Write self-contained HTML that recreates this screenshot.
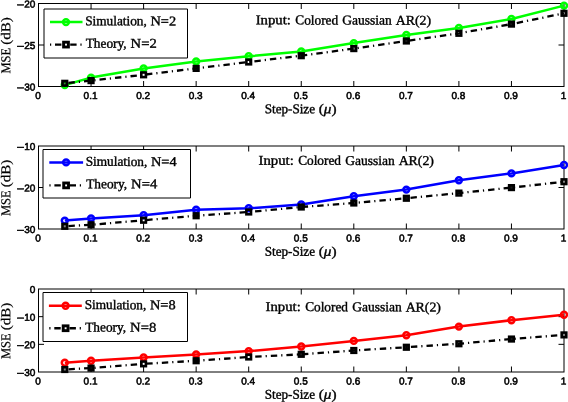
<!DOCTYPE html>
<html><head><meta charset="utf-8"><title>MSE vs Step-Size</title>
<style>
html,body{margin:0;padding:0;background:#fff;}
body{width:568px;height:402px;overflow:hidden;}
svg{display:block;text-rendering:geometricPrecision;}
.tk{font-family:"Liberation Sans",sans-serif;font-size:10px;fill:#000;stroke:#000;stroke-width:0.55px;}
.sf{font-family:"Liberation Serif",serif;font-size:13.5px;fill:#000;stroke:#000;stroke-width:0.38px;}
</style></head><body>
<svg width="568" height="402" viewBox="0 0 568 402">
<rect x="0" y="0" width="568" height="402" fill="#fff"/>

<rect x="38.5" y="3.5" width="525.5" height="83.0" fill="none" stroke="#000" stroke-width="1"/>
<text class="tk" transform="rotate(0.15 20 8.3)" x="16.7" y="8.30" textLength="7.5" lengthAdjust="spacingAndGlyphs">−</text>
<text class="tk" transform="rotate(0.15 28 7.5)" x="35.4" y="7.50" text-anchor="end">20</text>
<text class="tk" transform="rotate(0.15 20 49.8)" x="16.7" y="49.80" textLength="7.5" lengthAdjust="spacingAndGlyphs">−</text>
<text class="tk" transform="rotate(0.15 28 49.0)" x="35.4" y="49.00" text-anchor="end">25</text>
<text class="tk" transform="rotate(0.15 20 91.3)" x="16.7" y="91.30" textLength="7.5" lengthAdjust="spacingAndGlyphs">−</text>
<text class="tk" transform="rotate(0.15 28 90.5)" x="35.4" y="90.50" text-anchor="end">30</text>
<path d="M91.05 86.5v-5.5M91.05 3.5v5.5M143.60 86.5v-5.5M143.60 3.5v5.5M196.15 86.5v-5.5M196.15 3.5v5.5M248.70 86.5v-5.5M248.70 3.5v5.5M301.25 86.5v-5.5M301.25 3.5v5.5M353.80 86.5v-5.5M353.80 3.5v5.5M406.35 86.5v-5.5M406.35 3.5v5.5M458.90 86.5v-5.5M458.90 3.5v5.5M511.45 86.5v-5.5M511.45 3.5v5.5M38.5 45.00h5.5M564.0 45.00h-5.5" stroke="#000" stroke-width="1" fill="none"/>
<text class="tk" transform="rotate(0.15 38.5 99.0)" x="38.00" y="99.00" text-anchor="middle">0</text>
<text class="tk" transform="rotate(0.15 91.1 99.0)" x="90.55" y="99.00" text-anchor="middle">0.1</text>
<text class="tk" transform="rotate(0.15 143.6 99.0)" x="143.10" y="99.00" text-anchor="middle">0.2</text>
<text class="tk" transform="rotate(0.15 196.2 99.0)" x="195.65" y="99.00" text-anchor="middle">0.3</text>
<text class="tk" transform="rotate(0.15 248.7 99.0)" x="248.20" y="99.00" text-anchor="middle">0.4</text>
<text class="tk" transform="rotate(0.15 301.2 99.0)" x="300.75" y="99.00" text-anchor="middle">0.5</text>
<text class="tk" transform="rotate(0.15 353.8 99.0)" x="353.30" y="99.00" text-anchor="middle">0.6</text>
<text class="tk" transform="rotate(0.15 406.3 99.0)" x="405.85" y="99.00" text-anchor="middle">0.7</text>
<text class="tk" transform="rotate(0.15 458.9 99.0)" x="458.40" y="99.00" text-anchor="middle">0.8</text>
<text class="tk" transform="rotate(0.15 511.4 99.0)" x="510.95" y="99.00" text-anchor="middle">0.9</text>
<text class="tk" transform="rotate(0.15 564.0 99.0)" x="563.50" y="99.00" text-anchor="middle">1</text>
<text class="sf" transform="rotate(0.15 300.5 113.3)" y="113.30"><tspan x="264.70" textLength="50.30" lengthAdjust="spacingAndGlyphs">Step-Size</tspan> <tspan x="318.70" textLength="17.80" lengthAdjust="spacingAndGlyphs">(<tspan font-style="italic">μ</tspan>)</tspan></text>
<g transform="translate(10.3 72.90) rotate(-90)"><text class="sf" transform="rotate(0.15 27.5 0.0)" y="0.00" style="stroke-width:0.2px"><tspan x="-0.70" textLength="25.70" lengthAdjust="spacingAndGlyphs">MSE</tspan> <tspan x="28.10" textLength="27.70" lengthAdjust="spacingAndGlyphs">(dB)</tspan></text></g>
<polyline points="64.78,85.0 91.05,77.6 143.60,68.4 196.15,61.5 248.70,56.3 301.25,51.5 353.80,43.1 406.35,35.0 458.90,27.9 511.45,19.0 564.00,5.6" fill="none" stroke="#00ff00" stroke-width="2.5" stroke-linejoin="round"/>
<circle cx="64.78" cy="85.0" r="2.95" fill="none" stroke="#00ff00" stroke-width="2.5"/>
<circle cx="91.05" cy="77.6" r="2.95" fill="none" stroke="#00ff00" stroke-width="2.5"/>
<circle cx="143.60" cy="68.4" r="2.95" fill="none" stroke="#00ff00" stroke-width="2.5"/>
<circle cx="196.15" cy="61.5" r="2.95" fill="none" stroke="#00ff00" stroke-width="2.5"/>
<circle cx="248.70" cy="56.3" r="2.95" fill="none" stroke="#00ff00" stroke-width="2.5"/>
<circle cx="301.25" cy="51.5" r="2.95" fill="none" stroke="#00ff00" stroke-width="2.5"/>
<circle cx="353.80" cy="43.1" r="2.95" fill="none" stroke="#00ff00" stroke-width="2.5"/>
<circle cx="406.35" cy="35.0" r="2.95" fill="none" stroke="#00ff00" stroke-width="2.5"/>
<circle cx="458.90" cy="27.9" r="2.95" fill="none" stroke="#00ff00" stroke-width="2.5"/>
<circle cx="511.45" cy="19.0" r="2.95" fill="none" stroke="#00ff00" stroke-width="2.5"/>
<circle cx="564.00" cy="5.6" r="2.95" fill="none" stroke="#00ff00" stroke-width="2.5"/>
<polyline points="64.78,83.3 91.05,80.6 143.60,74.8 196.15,68.4 248.70,62.0 301.25,55.7 353.80,48.6 406.35,41.0 458.90,33.3 511.45,24.1 564.00,13.3" fill="none" stroke="#000" stroke-width="2.3" stroke-dasharray="6.4 4 1.2 4" stroke-dashoffset="11.9"/>
<rect x="62.48" y="81.00" width="4.6" height="4.6" fill="#000" fill-opacity="0.5" stroke="#000" stroke-width="2.6"/>
<rect x="88.75" y="78.30" width="4.6" height="4.6" fill="#000" fill-opacity="0.9" stroke="#000" stroke-width="2.6"/>
<rect x="141.30" y="72.50" width="4.6" height="4.6" fill="#000" fill-opacity="0.0" stroke="#000" stroke-width="2.6"/>
<rect x="193.85" y="66.10" width="4.6" height="4.6" fill="#000" fill-opacity="0.9" stroke="#000" stroke-width="2.6"/>
<rect x="246.40" y="59.70" width="4.6" height="4.6" fill="#000" fill-opacity="0.0" stroke="#000" stroke-width="2.6"/>
<rect x="298.95" y="53.40" width="4.6" height="4.6" fill="#000" fill-opacity="0.9" stroke="#000" stroke-width="2.6"/>
<rect x="351.50" y="46.30" width="4.6" height="4.6" fill="#000" fill-opacity="0.5" stroke="#000" stroke-width="2.6"/>
<rect x="404.05" y="38.70" width="4.6" height="4.6" fill="#000" fill-opacity="0.9" stroke="#000" stroke-width="2.6"/>
<rect x="456.60" y="31.00" width="4.6" height="4.6" fill="#000" fill-opacity="0.0" stroke="#000" stroke-width="2.6"/>
<rect x="509.15" y="21.80" width="4.6" height="4.6" fill="#000" fill-opacity="0.9" stroke="#000" stroke-width="2.6"/>
<rect x="561.70" y="11.00" width="4.6" height="4.6" fill="#000" fill-opacity="0.0" stroke="#000" stroke-width="2.6"/>
<rect x="44.0" y="9.0" width="143.5" height="49.0" fill="#fff" stroke="none"/>
<path d="M44.0 9.0H187.5" stroke="#000" stroke-width="1" fill="none"/>
<path d="M187.5 9.0V58.0" stroke="#000" stroke-width="1" fill="none"/>
<path d="M187.5 58.0H44.0" stroke="#000" stroke-width="1" fill="none"/>
<path d="M44.0 58.0V9.0" stroke="#000" stroke-width="1" fill="none"/>
<path d="M50 22.1H82.5" stroke="#00ff00" stroke-width="2.5" fill="none"/>
<circle cx="66.0" cy="22.1" r="2.95" fill="none" stroke="#00ff00" stroke-width="2.5"/>
<path d="M50 44.6H82.5" stroke="#000" stroke-width="2.3" stroke-dasharray="1.2 3.8 6.4 3.8" fill="none"/>
<rect x="63.60" y="42.20" width="4.8" height="4.8" fill="#fff" stroke="#000" stroke-width="2.9"/>
<text class="sf" transform="rotate(0.15 130.6 25.3)" y="25.30"><tspan x="85.20" textLength="61.60" lengthAdjust="spacingAndGlyphs">Simulation,</tspan> <tspan x="150.50" textLength="25.60" lengthAdjust="spacingAndGlyphs">N=2</tspan></text>
<text class="sf" transform="rotate(0.15 121.2 47.7)" y="47.70"><tspan x="85.70" textLength="40.90" lengthAdjust="spacingAndGlyphs">Theory,</tspan> <tspan x="130.60" textLength="26.10" lengthAdjust="spacingAndGlyphs">N=2</tspan></text>
<text class="sf" transform="rotate(0.15 343.3 24.5)" y="24.50"><tspan x="255.70" textLength="35.20" lengthAdjust="spacingAndGlyphs">Input:</tspan> <tspan x="295.30" textLength="42.80" lengthAdjust="spacingAndGlyphs">Colored</tspan> <tspan x="342.30" textLength="49.50" lengthAdjust="spacingAndGlyphs">Gaussian</tspan> <tspan x="395.80" textLength="35.30" lengthAdjust="spacingAndGlyphs">AR(2)</tspan></text>
<rect x="38.5" y="146.0" width="525.5" height="83.0" fill="none" stroke="#000" stroke-width="1"/>
<text class="tk" transform="rotate(0.15 20 150.8)" x="16.7" y="150.80" textLength="7.5" lengthAdjust="spacingAndGlyphs">−</text>
<text class="tk" transform="rotate(0.15 28 150.0)" x="35.4" y="150.00" text-anchor="end">10</text>
<text class="tk" transform="rotate(0.15 20 192.3)" x="16.7" y="192.30" textLength="7.5" lengthAdjust="spacingAndGlyphs">−</text>
<text class="tk" transform="rotate(0.15 28 191.5)" x="35.4" y="191.50" text-anchor="end">20</text>
<text class="tk" transform="rotate(0.15 20 233.8)" x="16.7" y="233.80" textLength="7.5" lengthAdjust="spacingAndGlyphs">−</text>
<text class="tk" transform="rotate(0.15 28 233.0)" x="35.4" y="233.00" text-anchor="end">30</text>
<path d="M91.05 229.0v-5.5M91.05 146.0v5.5M143.60 229.0v-5.5M143.60 146.0v5.5M196.15 229.0v-5.5M196.15 146.0v5.5M248.70 229.0v-5.5M248.70 146.0v5.5M301.25 229.0v-5.5M301.25 146.0v5.5M353.80 229.0v-5.5M353.80 146.0v5.5M406.35 229.0v-5.5M406.35 146.0v5.5M458.90 229.0v-5.5M458.90 146.0v5.5M511.45 229.0v-5.5M511.45 146.0v5.5M38.5 187.50h5.5M564.0 187.50h-5.5" stroke="#000" stroke-width="1" fill="none"/>
<text class="tk" transform="rotate(0.15 38.5 241.5)" x="38.00" y="241.50" text-anchor="middle">0</text>
<text class="tk" transform="rotate(0.15 91.1 241.5)" x="90.55" y="241.50" text-anchor="middle">0.1</text>
<text class="tk" transform="rotate(0.15 143.6 241.5)" x="143.10" y="241.50" text-anchor="middle">0.2</text>
<text class="tk" transform="rotate(0.15 196.2 241.5)" x="195.65" y="241.50" text-anchor="middle">0.3</text>
<text class="tk" transform="rotate(0.15 248.7 241.5)" x="248.20" y="241.50" text-anchor="middle">0.4</text>
<text class="tk" transform="rotate(0.15 301.2 241.5)" x="300.75" y="241.50" text-anchor="middle">0.5</text>
<text class="tk" transform="rotate(0.15 353.8 241.5)" x="353.30" y="241.50" text-anchor="middle">0.6</text>
<text class="tk" transform="rotate(0.15 406.3 241.5)" x="405.85" y="241.50" text-anchor="middle">0.7</text>
<text class="tk" transform="rotate(0.15 458.9 241.5)" x="458.40" y="241.50" text-anchor="middle">0.8</text>
<text class="tk" transform="rotate(0.15 511.4 241.5)" x="510.95" y="241.50" text-anchor="middle">0.9</text>
<text class="tk" transform="rotate(0.15 564.0 241.5)" x="563.50" y="241.50" text-anchor="middle">1</text>
<text class="sf" transform="rotate(0.15 300.5 255.8)" y="255.80"><tspan x="264.70" textLength="50.30" lengthAdjust="spacingAndGlyphs">Step-Size</tspan> <tspan x="318.70" textLength="17.80" lengthAdjust="spacingAndGlyphs">(<tspan font-style="italic">μ</tspan>)</tspan></text>
<g transform="translate(10.3 215.40) rotate(-90)"><text class="sf" transform="rotate(0.15 27.5 0.0)" y="0.00" style="stroke-width:0.2px"><tspan x="-0.70" textLength="25.70" lengthAdjust="spacingAndGlyphs">MSE</tspan> <tspan x="28.10" textLength="27.70" lengthAdjust="spacingAndGlyphs">(dB)</tspan></text></g>
<polyline points="64.78,220.6 91.05,218.4 143.60,215.2 196.15,209.7 248.70,208.3 301.25,204.4 353.80,196.2 406.35,189.6 458.90,180.3 511.45,173.4 564.00,165.0" fill="none" stroke="#0000ff" stroke-width="2.5" stroke-linejoin="round"/>
<circle cx="64.78" cy="220.6" r="2.95" fill="none" stroke="#0000ff" stroke-width="2.5"/>
<circle cx="91.05" cy="218.4" r="2.95" fill="none" stroke="#0000ff" stroke-width="2.5"/>
<circle cx="143.60" cy="215.2" r="2.95" fill="none" stroke="#0000ff" stroke-width="2.5"/>
<circle cx="196.15" cy="209.7" r="2.95" fill="none" stroke="#0000ff" stroke-width="2.5"/>
<circle cx="248.70" cy="208.3" r="2.95" fill="none" stroke="#0000ff" stroke-width="2.5"/>
<circle cx="301.25" cy="204.4" r="2.95" fill="none" stroke="#0000ff" stroke-width="2.5"/>
<circle cx="353.80" cy="196.2" r="2.95" fill="none" stroke="#0000ff" stroke-width="2.5"/>
<circle cx="406.35" cy="189.6" r="2.95" fill="none" stroke="#0000ff" stroke-width="2.5"/>
<circle cx="458.90" cy="180.3" r="2.95" fill="none" stroke="#0000ff" stroke-width="2.5"/>
<circle cx="511.45" cy="173.4" r="2.95" fill="none" stroke="#0000ff" stroke-width="2.5"/>
<circle cx="564.00" cy="165.0" r="2.95" fill="none" stroke="#0000ff" stroke-width="2.5"/>
<polyline points="64.78,226.3 91.05,224.8 143.60,220.25 196.15,215.75 248.70,212 301.25,207 353.80,203.0 406.35,198.25 458.90,193.1 511.45,187.6 564.00,181.7" fill="none" stroke="#000" stroke-width="2.3" stroke-dasharray="6.4 4 1.2 4" stroke-dashoffset="11.9"/>
<rect x="62.48" y="224.00" width="4.6" height="4.6" fill="#000" fill-opacity="0.5" stroke="#000" stroke-width="2.6"/>
<rect x="88.75" y="222.50" width="4.6" height="4.6" fill="#000" fill-opacity="0.9" stroke="#000" stroke-width="2.6"/>
<rect x="141.30" y="217.95" width="4.6" height="4.6" fill="#000" fill-opacity="0.0" stroke="#000" stroke-width="2.6"/>
<rect x="193.85" y="213.45" width="4.6" height="4.6" fill="#000" fill-opacity="0.9" stroke="#000" stroke-width="2.6"/>
<rect x="246.40" y="209.70" width="4.6" height="4.6" fill="#000" fill-opacity="0.0" stroke="#000" stroke-width="2.6"/>
<rect x="298.95" y="204.70" width="4.6" height="4.6" fill="#000" fill-opacity="0.9" stroke="#000" stroke-width="2.6"/>
<rect x="351.50" y="200.70" width="4.6" height="4.6" fill="#000" fill-opacity="0.5" stroke="#000" stroke-width="2.6"/>
<rect x="404.05" y="195.95" width="4.6" height="4.6" fill="#000" fill-opacity="0.9" stroke="#000" stroke-width="2.6"/>
<rect x="456.60" y="190.80" width="4.6" height="4.6" fill="#000" fill-opacity="0.0" stroke="#000" stroke-width="2.6"/>
<rect x="509.15" y="185.30" width="4.6" height="4.6" fill="#000" fill-opacity="0.9" stroke="#000" stroke-width="2.6"/>
<rect x="561.70" y="179.40" width="4.6" height="4.6" fill="#000" fill-opacity="0.0" stroke="#000" stroke-width="2.6"/>
<rect x="43.0" y="149.5" width="147.5" height="48.5" fill="#fff" stroke="none"/>
<path d="M43.0 149.5H190.5" stroke="#000" stroke-width="1" fill="none"/>
<path d="M190.5 149.5V198.0" stroke="#000" stroke-width="1" fill="none"/>
<path d="M190.5 198.0H43.0" stroke="#000" stroke-width="1" fill="none"/>
<path d="M43.0 198.0V149.5" stroke="#000" stroke-width="1" fill="none"/>
<path d="M49.3 162.4H83.1" stroke="#0000ff" stroke-width="2.5" fill="none"/>
<circle cx="66.1" cy="162.4" r="2.95" fill="none" stroke="#0000ff" stroke-width="2.5"/>
<path d="M49.4 185.4H81.9" stroke="#000" stroke-width="2.3" stroke-dasharray="1.2 3.8 6.4 3.8" fill="none"/>
<rect x="63.70" y="183.00" width="4.8" height="4.8" fill="#fff" stroke="#000" stroke-width="2.9"/>
<text class="sf" transform="rotate(0.15 131.1 165.9)" y="165.90"><tspan x="85.70" textLength="61.60" lengthAdjust="spacingAndGlyphs">Simulation,</tspan> <tspan x="151.00" textLength="25.60" lengthAdjust="spacingAndGlyphs">N=4</tspan></text>
<text class="sf" transform="rotate(0.15 121.7 188.3)" y="188.30"><tspan x="86.20" textLength="40.90" lengthAdjust="spacingAndGlyphs">Theory,</tspan> <tspan x="131.10" textLength="26.10" lengthAdjust="spacingAndGlyphs">N=4</tspan></text>
<text class="sf" transform="rotate(0.15 346.2 164.9)" y="164.90"><tspan x="258.55" textLength="35.20" lengthAdjust="spacingAndGlyphs">Input:</tspan> <tspan x="298.15" textLength="42.80" lengthAdjust="spacingAndGlyphs">Colored</tspan> <tspan x="345.15" textLength="49.50" lengthAdjust="spacingAndGlyphs">Gaussian</tspan> <tspan x="398.65" textLength="35.30" lengthAdjust="spacingAndGlyphs">AR(2)</tspan></text>
<rect x="38.5" y="289.0" width="525.5" height="83.0" fill="none" stroke="#000" stroke-width="1"/>
<text class="tk" transform="rotate(0.15 28 293.0)" x="35.4" y="293.00" text-anchor="end">0</text>
<text class="tk" transform="rotate(0.15 20 321.5)" x="16.7" y="321.47" textLength="7.5" lengthAdjust="spacingAndGlyphs">−</text>
<text class="tk" transform="rotate(0.15 28 320.7)" x="35.4" y="320.67" text-anchor="end">10</text>
<text class="tk" transform="rotate(0.15 20 349.1)" x="16.7" y="349.13" textLength="7.5" lengthAdjust="spacingAndGlyphs">−</text>
<text class="tk" transform="rotate(0.15 28 348.3)" x="35.4" y="348.33" text-anchor="end">20</text>
<text class="tk" transform="rotate(0.15 20 376.8)" x="16.7" y="376.80" textLength="7.5" lengthAdjust="spacingAndGlyphs">−</text>
<text class="tk" transform="rotate(0.15 28 376.0)" x="35.4" y="376.00" text-anchor="end">30</text>
<path d="M91.05 372.0v-5.5M91.05 289.0v5.5M143.60 372.0v-5.5M143.60 289.0v5.5M196.15 372.0v-5.5M196.15 289.0v5.5M248.70 372.0v-5.5M248.70 289.0v5.5M301.25 372.0v-5.5M301.25 289.0v5.5M353.80 372.0v-5.5M353.80 289.0v5.5M406.35 372.0v-5.5M406.35 289.0v5.5M458.90 372.0v-5.5M458.90 289.0v5.5M511.45 372.0v-5.5M511.45 289.0v5.5M38.5 316.67h5.5M564.0 316.67h-5.5M38.5 344.33h5.5M564.0 344.33h-5.5" stroke="#000" stroke-width="1" fill="none"/>
<text class="tk" transform="rotate(0.15 38.5 384.5)" x="38.00" y="384.50" text-anchor="middle">0</text>
<text class="tk" transform="rotate(0.15 91.1 384.5)" x="90.55" y="384.50" text-anchor="middle">0.1</text>
<text class="tk" transform="rotate(0.15 143.6 384.5)" x="143.10" y="384.50" text-anchor="middle">0.2</text>
<text class="tk" transform="rotate(0.15 196.2 384.5)" x="195.65" y="384.50" text-anchor="middle">0.3</text>
<text class="tk" transform="rotate(0.15 248.7 384.5)" x="248.20" y="384.50" text-anchor="middle">0.4</text>
<text class="tk" transform="rotate(0.15 301.2 384.5)" x="300.75" y="384.50" text-anchor="middle">0.5</text>
<text class="tk" transform="rotate(0.15 353.8 384.5)" x="353.30" y="384.50" text-anchor="middle">0.6</text>
<text class="tk" transform="rotate(0.15 406.3 384.5)" x="405.85" y="384.50" text-anchor="middle">0.7</text>
<text class="tk" transform="rotate(0.15 458.9 384.5)" x="458.40" y="384.50" text-anchor="middle">0.8</text>
<text class="tk" transform="rotate(0.15 511.4 384.5)" x="510.95" y="384.50" text-anchor="middle">0.9</text>
<text class="tk" transform="rotate(0.15 564.0 384.5)" x="563.50" y="384.50" text-anchor="middle">1</text>
<text class="sf" transform="rotate(0.15 300.5 398.8)" y="398.80"><tspan x="264.70" textLength="50.30" lengthAdjust="spacingAndGlyphs">Step-Size</tspan> <tspan x="318.70" textLength="17.80" lengthAdjust="spacingAndGlyphs">(<tspan font-style="italic">μ</tspan>)</tspan></text>
<g transform="translate(10.3 358.40) rotate(-90)"><text class="sf" transform="rotate(0.15 27.5 0.0)" y="0.00" style="stroke-width:0.2px"><tspan x="-0.70" textLength="25.70" lengthAdjust="spacingAndGlyphs">MSE</tspan> <tspan x="28.10" textLength="27.70" lengthAdjust="spacingAndGlyphs">(dB)</tspan></text></g>
<polyline points="64.78,362.7 91.05,360.7 143.60,357.5 196.15,354.4 248.70,351.1 301.25,346.5 353.80,340.9 406.35,335.2 458.90,326.6 511.45,320.2 564.00,314.8" fill="none" stroke="#ff0000" stroke-width="2.5" stroke-linejoin="round"/>
<circle cx="64.78" cy="362.7" r="2.95" fill="none" stroke="#ff0000" stroke-width="2.5"/>
<circle cx="91.05" cy="360.7" r="2.95" fill="none" stroke="#ff0000" stroke-width="2.5"/>
<circle cx="143.60" cy="357.5" r="2.95" fill="none" stroke="#ff0000" stroke-width="2.5"/>
<circle cx="196.15" cy="354.4" r="2.95" fill="none" stroke="#ff0000" stroke-width="2.5"/>
<circle cx="248.70" cy="351.1" r="2.95" fill="none" stroke="#ff0000" stroke-width="2.5"/>
<circle cx="301.25" cy="346.5" r="2.95" fill="none" stroke="#ff0000" stroke-width="2.5"/>
<circle cx="353.80" cy="340.9" r="2.95" fill="none" stroke="#ff0000" stroke-width="2.5"/>
<circle cx="406.35" cy="335.2" r="2.95" fill="none" stroke="#ff0000" stroke-width="2.5"/>
<circle cx="458.90" cy="326.6" r="2.95" fill="none" stroke="#ff0000" stroke-width="2.5"/>
<circle cx="511.45" cy="320.2" r="2.95" fill="none" stroke="#ff0000" stroke-width="2.5"/>
<circle cx="564.00" cy="314.8" r="2.95" fill="none" stroke="#ff0000" stroke-width="2.5"/>
<polyline points="64.78,369.5 91.05,368.1 143.60,363.85 196.15,360.75 248.70,357.0 301.25,354.3 353.80,350.5 406.35,347.25 458.90,343.75 511.45,339.05 564.00,334.9" fill="none" stroke="#000" stroke-width="2.3" stroke-dasharray="6.4 4 1.2 4" stroke-dashoffset="11.9"/>
<rect x="62.48" y="367.20" width="4.6" height="4.6" fill="#000" fill-opacity="0.5" stroke="#000" stroke-width="2.6"/>
<rect x="88.75" y="365.80" width="4.6" height="4.6" fill="#000" fill-opacity="0.9" stroke="#000" stroke-width="2.6"/>
<rect x="141.30" y="361.55" width="4.6" height="4.6" fill="#000" fill-opacity="0.0" stroke="#000" stroke-width="2.6"/>
<rect x="193.85" y="358.45" width="4.6" height="4.6" fill="#000" fill-opacity="0.9" stroke="#000" stroke-width="2.6"/>
<rect x="246.40" y="354.70" width="4.6" height="4.6" fill="#000" fill-opacity="0.0" stroke="#000" stroke-width="2.6"/>
<rect x="298.95" y="352.00" width="4.6" height="4.6" fill="#000" fill-opacity="0.9" stroke="#000" stroke-width="2.6"/>
<rect x="351.50" y="348.20" width="4.6" height="4.6" fill="#000" fill-opacity="0.5" stroke="#000" stroke-width="2.6"/>
<rect x="404.05" y="344.95" width="4.6" height="4.6" fill="#000" fill-opacity="0.9" stroke="#000" stroke-width="2.6"/>
<rect x="456.60" y="341.45" width="4.6" height="4.6" fill="#000" fill-opacity="0.0" stroke="#000" stroke-width="2.6"/>
<rect x="509.15" y="336.75" width="4.6" height="4.6" fill="#000" fill-opacity="0.9" stroke="#000" stroke-width="2.6"/>
<rect x="561.70" y="332.60" width="4.6" height="4.6" fill="#000" fill-opacity="0.0" stroke="#000" stroke-width="2.6"/>
<rect x="43.0" y="292.5" width="144.5" height="49.0" fill="#fff" stroke="none"/>
<path d="M43.0 292.5H187.5" stroke="#000" stroke-width="1" fill="none"/>
<path d="M187.5 292.5V341.5" stroke="#000" stroke-width="1" fill="none"/>
<path d="M187.5 341.5H43.0" stroke="#000" stroke-width="1" fill="none"/>
<path d="M43.0 341.5V292.5" stroke="#000" stroke-width="1" fill="none"/>
<path d="M48.9 305.75H81.8" stroke="#ff0000" stroke-width="2.5" fill="none"/>
<circle cx="65.6" cy="305.75" r="2.95" fill="none" stroke="#ff0000" stroke-width="2.5"/>
<path d="M49.3 328.25H81.8" stroke="#000" stroke-width="2.3" stroke-dasharray="1.2 3.8 6.4 3.8" fill="none"/>
<rect x="63.20" y="325.85" width="4.8" height="4.8" fill="#fff" stroke="#000" stroke-width="2.9"/>
<text class="sf" transform="rotate(0.15 130.1 309.2)" y="309.20"><tspan x="84.70" textLength="61.60" lengthAdjust="spacingAndGlyphs">Simulation,</tspan> <tspan x="150.00" textLength="25.60" lengthAdjust="spacingAndGlyphs">N=8</tspan></text>
<text class="sf" transform="rotate(0.15 120.7 331.6)" y="331.60"><tspan x="85.20" textLength="40.90" lengthAdjust="spacingAndGlyphs">Theory,</tspan> <tspan x="130.10" textLength="26.10" lengthAdjust="spacingAndGlyphs">N=8</tspan></text>
<text class="sf" transform="rotate(0.15 353.2 311.2)" y="311.25"><tspan x="265.55" textLength="35.20" lengthAdjust="spacingAndGlyphs">Input:</tspan> <tspan x="305.15" textLength="42.80" lengthAdjust="spacingAndGlyphs">Colored</tspan> <tspan x="352.15" textLength="49.50" lengthAdjust="spacingAndGlyphs">Gaussian</tspan> <tspan x="405.65" textLength="35.30" lengthAdjust="spacingAndGlyphs">AR(2)</tspan></text>
</svg></body></html>
